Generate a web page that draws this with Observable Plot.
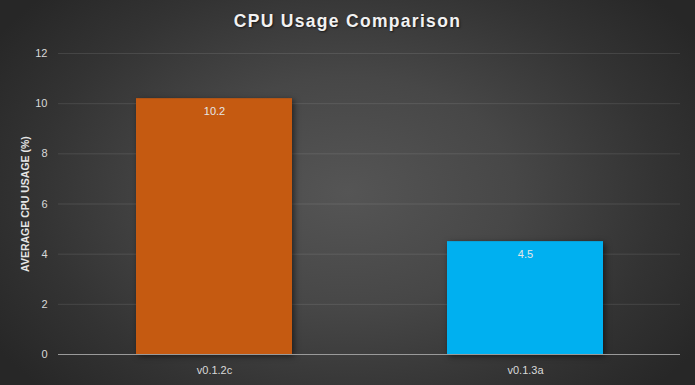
<!DOCTYPE html>
<html>
<head>
<meta charset="utf-8">
<script src="https://cdn.jsdelivr.net/npm/d3@7"></script>
<script src="https://cdn.jsdelivr.net/npm/@observablehq/plot@0.6"></script>
<style>
  body { margin: 0; background: #2a2a2a; }
  #wrap {
    position: relative; width: 695px; height: 385px; overflow: hidden;
    background: radial-gradient(ellipse 60% 75% at 50% 50%, #555555 0%, #474747 40%, #333333 75%, #272727 100%);
    font-family: "Liberation Sans", "Open Sans", sans-serif;
  }
  #title {
    position: absolute; left: 0; top: 11px; width: 695px; text-align: center;
    color: #f2f2f2; font-size: 17.5px; font-weight: bold; letter-spacing: 1.3px;
    text-shadow: 1px 1px 2px rgba(0,0,0,0.6);
  }
  #chart { position: absolute; left: 0; top: 0; }
</style>
</head>
<body>
<div id="wrap">
  <div id="chart"></div>
  <div id="title">CPU Usage Comparison</div>
</div>
<script>
const versions = ["v0.1.2c", "v0.1.3a"];
const usage = [10.2, 4.5];
const barColors = ["#C55A11", "#00B0F0"];
const yTicks = [0, 2, 4, 6, 8, 10, 12];
const yLabel = "AVERAGE CPU USAGE (%)";

const data = versions.map((v, i) => ({version: v, usage: usage[i], color: barColors[i]}));

const chart = Plot.plot({
  width: 695,
  height: 385,
  marginTop: 53,
  marginBottom: 31,
  marginLeft: 58,
  marginRight: 15,
  style: {background: "transparent", color: "#d9d9d9", fontSize: "11px", fontFamily: "Liberation Sans, sans-serif"},
  x: {domain: versions, paddingInner: 0.5, paddingOuter: 0.25, label: null},
  y: {domain: [0, 12], label: null},
  marks: [
    Plot.gridY(yTicks, {stroke: "#ffffff", strokeOpacity: 0.1, strokeWidth: 1}),
    Plot.axisY(yTicks, {tickSize: 0, tickPadding: 11, label: null, fill: "#d9d9d9"}),
    Plot.axisX({tickSize: 0, tickPadding: 12, label: null, fill: "#d9d9d9"}),
    Plot.barY(data, {x: "version", y: "usage", fill: "color", imageFilter: "drop-shadow(2px 2px 3px rgba(0,0,0,0.55))"}),
    Plot.ruleY([0], {stroke: "#9a9a9a", strokeWidth: 1}),
    Plot.text(data, {x: "version", y: "usage", text: d => d.usage.toFixed(1), dy: 13, fill: "#e6e6e6", fontSize: 11}),
    Plot.text([yLabel], {frameAnchor: "left", textAnchor: "middle", rotate: -90, dx: -33, text: d => d, fontWeight: "bold", fontSize: 10.5, fill: "#e6e6e6"})
  ]
});
document.getElementById("chart").appendChild(chart);
</script>
</body>
</html>
